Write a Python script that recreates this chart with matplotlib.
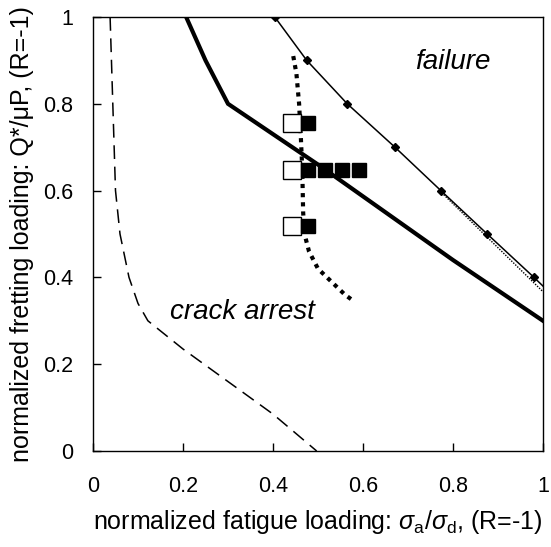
import numpy as np
import matplotlib.pyplot as plt

plt.rcParams['font.family'] = ['Liberation Sans', 'DejaVu Sans']
plt.rcParams['mathtext.fontset'] = 'custom'
plt.rcParams['mathtext.rm'] = 'Liberation Sans'
plt.rcParams['mathtext.it'] = 'Liberation Sans:italic'

# crack arrest limit (dashed)
arrest_x = [0.038, 0.044, 0.050, 0.060, 0.080, 0.100, 0.122, 0.20, 0.30, 0.40, 0.497]
arrest_y = [1.00, 0.80, 0.60, 0.50, 0.40, 0.34, 0.30, 0.235, 0.16, 0.085, 0.0]

# crack nucleation boundary (thick solid)
nucl_x = [0.207, 0.25, 0.30, 0.50, 0.80, 1.00]
nucl_y = [1.00, 0.90, 0.80, 0.66, 0.44, 0.30]

# failure boundary with diamond markers
fail_x = [0.404, 0.475, 0.565, 0.671, 0.773, 0.876, 0.980]
fail_y = [1.00, 0.90, 0.80, 0.70, 0.60, 0.50, 0.40]
fail_end = (1.00, 0.38)

# dotted fit along failure boundary
fit_x = [0.775, 1.00]
fit_y = [0.595, 0.367]

# thick dotted experimental boundary
exp_x = [0.445, 0.452, 0.458, 0.462, 0.465, 0.467, 0.470, 0.480, 0.500, 0.530, 0.560, 0.580]
exp_y = [0.91, 0.87, 0.80, 0.72, 0.65, 0.55, 0.50, 0.46, 0.42, 0.39, 0.36, 0.345]

# tests: open = no failure, filled = failure
open_x = [0.443, 0.443, 0.443]
open_y = [0.755, 0.647, 0.518]
fill_x = [0.478, 0.478, 0.516, 0.553, 0.590, 0.478]
fill_y = [0.755, 0.647, 0.647, 0.647, 0.647, 0.518]

fig = plt.figure(figsize=(5.51, 5.47), dpi=100)
ax = fig.add_axes([93/551, 1-451/547, 450/551, 434/547])

ax.plot(arrest_x, arrest_y, color='black', lw=1.1, dashes=(9, 5))
ax.plot(nucl_x, nucl_y, color='black', lw=3.0, solid_joinstyle='miter')
ax.plot(fail_x + [fail_end[0]], fail_y + [fail_end[1]], color='black', lw=1.1)
ax.plot(fail_x, fail_y, ls='none', marker='D', ms=4, color='black')
ax.plot(fit_x, fit_y, color='black', lw=1.0, ls=(0, (1, 1)))
ax.plot(exp_x, exp_y, color='black', lw=3.0, ls=(0, (1, 1.2)))

ax.plot(open_x, open_y, ls='none', marker='s', ms=12.5, mfc='white', mec='black', mew=1.0)
ax.plot(fill_x, fill_y, ls='none', marker='s', ms=9.5, color='black')

ax.text(0.80, 0.896, 'failure', style='italic', fontsize=20, ha='center', va='center')
ax.text(0.333, 0.32, 'crack arrest', style='italic', fontsize=20, ha='center', va='center')

ax.set_xlim(0, 1)
ax.set_ylim(0, 1)
ax.set_xticks([0, 0.2, 0.4, 0.6, 0.8, 1])
ax.set_xticklabels(['0', '0.2', '0.4', '0.6', '0.8', '1'])
ax.set_yticks([0, 0.2, 0.4, 0.6, 0.8, 1])
ax.set_yticklabels(['0', '0.2', '0.4', '0.6', '0.8', '1'])
ax.tick_params(direction='in', length=6, width=1, labelsize=15.5)
ax.tick_params(axis='x', pad=18)
ax.tick_params(axis='y', pad=14.5)
for s in ax.spines.values():
    s.set_linewidth(1.0)

ax.set_xlabel(r'normalized fatigue loading: $\sigma_{\rm a}/\sigma_{\rm d}$, (R=-1)', fontsize=18, labelpad=8)
ax.set_ylabel('normalized fretting loading: Q*/μP, (R=-1)', fontsize=18, labelpad=6)

fig.savefig('out.png', dpi=100)
